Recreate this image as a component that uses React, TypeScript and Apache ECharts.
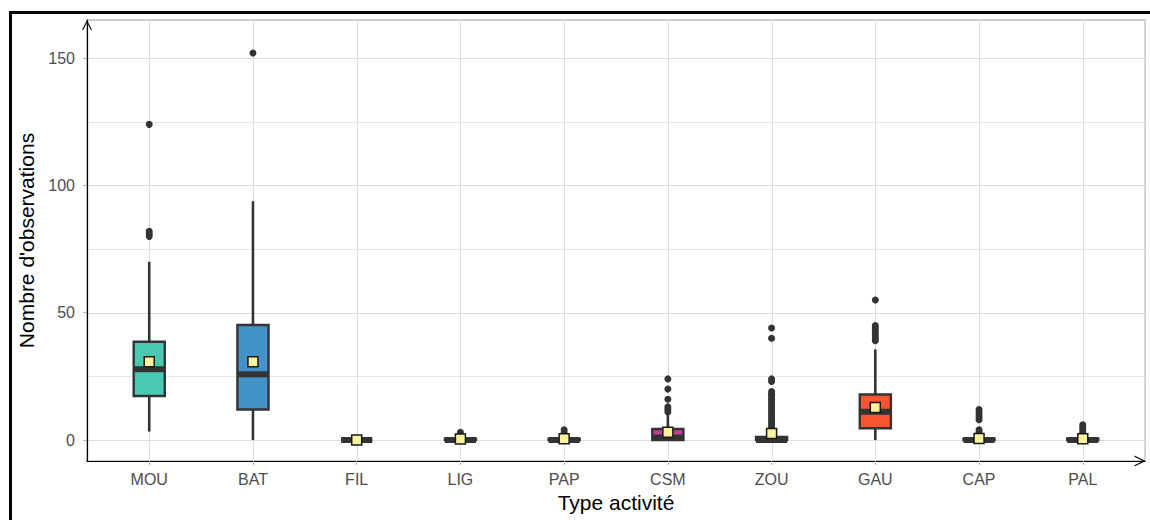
import React, { useEffect, useRef } from 'react';
import * as echarts from 'echarts';

const categories = ['MOU', 'BAT', 'FIL', 'LIG', 'PAP', 'CSM', 'ZOU', 'GAU', 'CAP', 'PAL'];
const whiskerLow = [3.3, 0, 0, 0, 0, 0, 0, 0, 0, 0];
const q1 = [17.3, 12.0, 0, 0, 0, 0, 0, 4.6, 0, 0];
const medians = [27.8, 25.8, 0, 0, 0, 1, 0, 11.1, 0, 0];
const q3 = [38.6, 45.2, 0, 0.5, 0.5, 4.3, 1.2, 17.9, 0.5, 0.5];
const whiskerHigh = [70, 93.8, 0, 1, 1, 9.8, 2, 35.6, 2, 1];
const means = [30.7, 30.7, 0, 0.4, 0.5, 3.0, 2.6, 12.8, 0.6, 0.5];
const outliers: number[][] = [
  [80, 81, 82, 124],
  [152],
  [],
  [2, 3],
  [2, 3, 4],
  [11, 12, 13, 16, 20, 24],
  [2, 3, 4, 5, 6, 7, 8, 9, 10, 11, 12, 13, 14, 15, 16, 17, 18, 19, 23, 24, 40, 44],
  [39, 40, 41, 42, 43, 44, 45, 55],
  [3, 4, 8, 9, 10, 11, 12],
  [2, 3, 4, 5, 6],
];
const boxColors = ['#48C9B0', '#4393C9', '#F4D03F', '#82C36B', '#9B6FBF', '#C23E97', '#E59866', '#FA5532', '#5DADE2', '#F7DC6F'];
const yTicks = [0, 50, 100, 150];
const yGrid = [0, 25, 50, 75, 100, 125, 150];

const FONT = "'Liberation Sans', Arial, sans-serif";
const DARK = '#333333';

export default function App() {
  const ref = useRef<HTMLDivElement>(null);
  useEffect(() => {
    if (!ref.current) return;
    const chart = echarts.init(ref.current, null, { renderer: 'svg' });
    const xIdx = categories.map((_, i) => i);
    const option: any = {
      animation: false,
      backgroundColor: '#ffffff',
      grid: {
        left: 87, top: 20, width: 1058, height: 441,
        show: true, borderColor: '#bdbdbd', borderWidth: 1.3,
        containLabel: false, outerBoundsMode: 'none',
      },
      xAxis: {
        type: 'value', min: -0.6, max: 9.6, splitNumber: 10,
        name: 'Type activité', nameLocation: 'middle', nameGap: 31,
        nameTextStyle: { fontSize: 21, color: '#000', fontFamily: FONT },
        axisLine: {
          show: true, onZero: false,
          lineStyle: { color: '#000', width: 1.2 },
          symbol: ['none', 'path://M0,10 L5,0 L10,10 L8.8,10 L5,2.4 L1.2,10 Z'],
          symbolSize: [11, 11], symbolOffset: [0, -5],
        },
        axisTick: { show: true, customValues: xIdx, length: 4, lineStyle: { color: '#b3b3b3' } },
        axisLabel: {
          customValues: xIdx, fontSize: 16, color: '#4d4d4d', fontFamily: FONT, margin: 10,
          formatter: (v: number) => (Number.isInteger(v) && categories[v] ? categories[v] : ''),
        },
        splitLine: { show: false },
      },
      yAxis: {
        type: 'value', min: -8.25, max: 165, splitNumber: 4,
        name: "Nombre d'observations", nameLocation: 'middle', nameGap: 46, nameRotate: 90,
        nameTextStyle: { fontSize: 21, color: '#000', fontFamily: FONT },
        axisLine: {
          show: true, onZero: false,
          lineStyle: { color: '#000', width: 1.2 },
          symbol: ['none', 'path://M0,10 L5,0 L10,10 L8.8,10 L5,2.4 L1.2,10 Z'],
          symbolSize: [10, 10], symbolOffset: [0, -5],
        },
        axisTick: { show: true, customValues: yTicks, length: 4, lineStyle: { color: '#b3b3b3' } },
        axisLabel: {
          customValues: yTicks, fontSize: 16, color: '#4d4d4d', fontFamily: FONT, margin: 12,
          formatter: (v: number) => (yTicks.includes(v) ? String(v) : ''),
        },
        splitLine: { show: false },
      },
      graphic: [
        {
          type: 'rect', silent: true, z: 100,
          shape: { x: 10.5, y: 12.5, width: 1400, height: 800 },
          style: { fill: 'transparent', stroke: '#000', lineWidth: 3 },
        },
      ],
      series: [
        {
          type: 'custom', z: 0, silent: true,
          data: yGrid.map((v) => [0, v]),
          encode: { x: 0, y: 1 },
          renderItem: (params: any, api: any) => {
            const cs = params.coordSys;
            const y = Math.round(api.coord([0, api.value(1)])[1]) + 0.5;
            return {
              type: 'line',
              shape: { x1: cs.x, y1: y, x2: cs.x + cs.width, y2: y },
              style: { stroke: api.value(1) % 50 === 0 ? '#dedede' : '#e6e6e6', lineWidth: 1 },
            };
          },
        },
        {
          type: 'custom', z: 0, silent: true,
          data: xIdx.map((i) => [i, 0]),
          encode: { x: 0, y: 1 },
          renderItem: (params: any, api: any) => {
            const cs = params.coordSys;
            const x = Math.round(api.coord([api.value(0), 0])[0]) + 0.5;
            return {
              type: 'line',
              shape: { x1: x, y1: cs.y, x2: x, y2: cs.y + cs.height },
              style: { stroke: '#dedede', lineWidth: 1 },
            };
          },
        },
        {
          type: 'custom', z: 2, silent: true,
          data: xIdx.map((i) => [i, whiskerLow[i], q1[i], medians[i], q3[i], whiskerHigh[i]]),
          encode: { x: 0, y: [1, 2, 3, 4, 5] },
          renderItem: (params: any, api: any) => {
            const i = api.value(0);
            const [cx, yLo] = api.coord([i, api.value(1)]);
            const yQ1 = api.coord([i, api.value(2)])[1];
            const yMed = api.coord([i, api.value(3)])[1];
            const yQ3 = api.coord([i, api.value(4)])[1];
            const yHi = api.coord([i, api.value(5)])[1];
            const w = api.size([0.3, 0])[0];
            return {
              type: 'group',
              children: [
                { type: 'line', shape: { x1: cx, y1: yHi, x2: cx, y2: yQ3 }, style: { stroke: DARK, lineWidth: 2.6 } },
                { type: 'line', shape: { x1: cx, y1: yQ1, x2: cx, y2: yLo }, style: { stroke: DARK, lineWidth: 2.6 } },
                {
                  type: 'rect',
                  shape: { x: cx - w / 2, y: yQ3, width: w, height: yQ1 - yQ3 },
                  style: { fill: boxColors[i], stroke: DARK, lineWidth: 2.4 },
                },
                {
                  type: 'line',
                  shape: { x1: cx - w / 2, y1: yMed, x2: cx + w / 2, y2: yMed },
                  style: { stroke: DARK, lineWidth: 6 },
                },
              ],
            };
          },
        },
        {
          type: 'scatter', z: 3, silent: true,
          symbol: 'circle', symbolSize: 7,
          itemStyle: { color: DARK, opacity: 1 },
          data: outliers.flatMap((vals, i) => vals.map((v) => [i, v])),
        },
        {
          type: 'scatter', z: 4, silent: true,
          symbol: 'rect', symbolSize: 10,
          itemStyle: { color: '#FAF39B', borderColor: '#1a1a1a', borderWidth: 1.5, opacity: 1 },
          data: means.map((v, i) => [i, v]),
        },
      ],
    };
    chart.setOption(option);
    return () => chart.dispose();
  }, []);
  return (
    <div
      ref={ref}
      style={{ position: 'absolute', left: 0, top: 0, width: 1150, height: 520, background: '#fff' }}
    />
  );
}
